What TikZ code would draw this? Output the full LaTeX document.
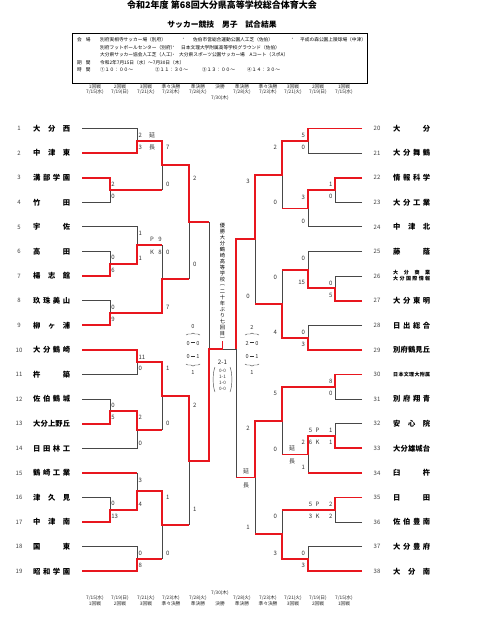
\documentclass[tikz,border=0pt]{standalone}
\usepackage{fontspec}
\setmainfont{Noto Sans CJK JP}
\usetikzlibrary{decorations.pathreplacing}
\definecolor{wred}{RGB}{232,22,30}
\newcounter{labc}
\tikzset{
  win/.style={wred, line width=1.9pt},
  lose/.style={black!72, line width=0.85pt},
  lbl/.style={font=\fontsize{6}{6}\selectfont, text=black!80, inner sep=0pt},
  lbW/.style={lbl, anchor=west},
  lbE/.style={lbl, anchor=east},
  lbC/.style={lbl},
  tnum/.style={font=\fontsize{6}{6}\selectfont, text=black!75, inner sep=0pt},
  tname/.style={font=\fontsize{7.3}{8}\selectfont\bfseries, inner sep=0pt, anchor=west},
  tsmall/.style={font=\fontsize{5}{5}\selectfont\bfseries, inner sep=0pt, anchor=west},
  hdr/.style={font=\fontsize{4.7}{5}\selectfont, inner sep=0pt, text=black!85},
  info/.style={font=\fontsize{4.7}{5}\selectfont, inner sep=0pt, anchor=west},
  vt/.style={font=\fontsize{5.2}{5.2}\selectfont, inner sep=0pt},
  sfs/.style={font=\fontsize{5.6}{6}\selectfont, inner sep=0pt, text=black!80},
  fin/.style={font=\fontsize{4.6}{5}\selectfont, inner sep=0pt, text=black!80},
  brc/.style={decorate, decoration={brace, amplitude=2pt}, line width=0.45pt, black!70},
}
\newcommand{\labL}[3]{\stepcounter{labc}\node[lbW] (lab\arabic{labc}) at (#1,#2) {#3};}
\newcommand{\labR}[3]{\stepcounter{labc}\node[lbE] (lab\arabic{labc}) at (#1,#2) {#3};}
\newcommand{\labC}[3]{\stepcounter{labc}\node[lbC] (lab\arabic{labc}) at (#1,#2) {#3};}
\newcommand{\dsh}{\,\rule[0.28em]{0.85em}{0.2em}\,}
\begin{document}
\begin{tikzpicture}[x=1pt,y=-1pt]
\useasboundingbox (0,0) rectangle (480,634);
\fill[white] (0,0) rectangle (480,634);

% titles
\node[font=\fontsize{9}{9}\selectfont\bfseries, inner sep=0pt] (title) at (222,5.5) {令和2年度 第68回大分県高等学校総合体育大会};
\node[font=\fontsize{7.8}{8}\selectfont\bfseries, inner sep=0pt] (subtitle) at (222,25) {サッカー競技　男子　試合結果};

% info box
\node[draw=black, line width=0.6pt, minimum width=295pt, minimum height=50pt, inner sep=0pt] (infobox) at (219.5,58) {};
\node[info] (k1) at (77,39.3) {会\hspace{4pt}場};
\node[info] (k4) at (77,62.7) {期\hspace{4pt}間};
\node[info] (k5) at (77,70) {時\hspace{4pt}間};
\node[info] (a1) at (100,39.3) {別府実相寺サッカー場（別府）};
\node[info] (a2) at (181,39.3) {・};
\node[info] (a3) at (193,39.3) {佐伯市営総合運動公園人工芝（佐伯）};
\node[info] (a4) at (290,39.3) {・};
\node[info] (a5) at (300,39.3) {平成の森公園上陵球場（中津）};
\node[info] (b1) at (100,47.7) {別府フットボールセンター（別府）};
\node[info] (b2) at (171,47.7) {・};
\node[info] (b3) at (181,47.7) {日本文理大学附属高等学校グラウンド（佐伯）};
\node[info] (c1) at (100,55) {大分県サッカー協会人工芝（人工）};
\node[info] (c2) at (171,55) {・};
\node[info] (c3) at (179,55) {大分県スポーツ公園サッカー場　Aコート（スポA）};
\node[info] (d1) at (100,62.7) {令和2年7月15日（水）～7月30日（木）};
\node[info] (e1) at (100,70) {①１０：００～};
\node[info] (e2) at (155,70) {②１１：３０～};
\node[info] (e3) at (202,70) {③１３：００～};
\node[info] (e4) at (247,70) {④１４：３０～};

% header / footer
\foreach \x/\r/\d [count=\i] in {95/1回戦/{7/15(水)}, 120/2回戦/{7/19(日)}, 146/3回戦/{7/21(火)}, 171/準々決勝/{7/23(木)}, 198/準決勝/{7/28(火)}, 242/準決勝/{7/28(火)}, 268/準々決勝/{7/23(木)}, 293/3回戦/{7/21(火)}, 318/2回戦/{7/19(日)}, 344/1回戦/{7/15(水)}} {
  \node[hdr] (hr\i) at (\x,87) {\r};
  \node[hdr] (hd\i) at (\x,92) {\d};
  \node[hdr] (fd\i) at (\x,598) {\d};
  \node[hdr] (fr\i) at (\x,603.5) {\r};
}
\node[hdr] (hfr) at (220,87) {決勝};
\node[hdr] (hfd) at (220,98) {7/30(木)};
\node[hdr] (ffd) at (220,593) {7/30(木)};
\node[hdr] (ffr) at (220,603.5) {決勝};

% teams left
\foreach \n/\y/\t in {1/128.5/{大\hfill 分\hfill 西}, 2/153.1/{中\hfill 津\hfill 東}, 3/177.7/{溝\hfill 部\hfill 学\hfill 園}, 4/202.3/{竹\hfill 田}, 5/226.9/{宇\hfill 佐}, 6/251.5/{高\hfill 田}, 7/276.1/{楊\hfill 志\hfill 館}, 8/300.7/{玖\hfill 珠\hfill 美\hfill 山}, 9/325.3/{柳\hfill ヶ\hfill 浦}, 10/349.9/{大\hfill 分\hfill 鶴\hfill 崎}, 11/374.5/{杵\hfill 築}, 12/399.1/{佐\hfill 伯\hfill 鶴\hfill 城}, 13/423.7/{大\hfill 分\hfill 上\hfill 野\hfill 丘}, 14/448.3/{日\hfill 田\hfill 林\hfill 工}, 15/472.9/{鶴\hfill 崎\hfill 工\hfill 業}, 16/497.5/{津\hfill 久\hfill 見}, 17/522.1/{中\hfill 津\hfill 南}, 18/546.7/{国\hfill 東}, 19/571.3/{昭\hfill 和\hfill 学\hfill 園}} {
  \node[tnum] (nl\n) at (19,\y) {\n};
  \node[tname] (tl\n) at (33,\y) {\makebox[37pt][s]{\t}};
}
% teams right
\foreach \n/\y/\t in {20/128.5/{大\hfill 分}, 21/153.1/{大\hfill 分\hfill 舞\hfill 鶴}, 22/177.7/{情\hfill 報\hfill 科\hfill 学}, 23/202.3/{大\hfill 分\hfill 工\hfill 業}, 24/226.9/{中\hfill 津\hfill 北}, 25/251.5/{藤\hfill 蔭}, 27/300.7/{大\hfill 分\hfill 東\hfill 明}, 28/325.3/{日\hfill 出\hfill 総\hfill 合}, 29/349.9/{別\hfill 府\hfill 鶴\hfill 見\hfill 丘}, 31/399.1/{別\hfill 府\hfill 翔\hfill 青}, 32/423.7/{安\hfill 心\hfill 院}, 33/448.3/{大\hfill 分\hfill 雄\hfill 城\hfill 台}, 34/472.9/{臼\hfill 杵}, 35/497.5/{日\hfill 田}, 36/522.1/{佐\hfill 伯\hfill 豊\hfill 南}, 37/546.7/{大\hfill 分\hfill 豊\hfill 府}, 38/571.3/{大\hfill 分\hfill 南}} {
  \node[tnum] (nr\n) at (377,\y) {\n};
  \node[tname] (tr\n) at (393,\y) {\makebox[37pt][s]{\t}};
}
\node[tnum] (nr26) at (377,276.1) {26};
\node[tsmall] (tr26a) at (393,272.6) {\makebox[37pt][s]{大\hfill 分\hfill 商\hfill 業}};
\node[tsmall] (tr26b) at (393,278.6) {\makebox[37pt][s]{大\hfill 分\hfill 国\hfill 際\hfill 情\hfill 報}};
\node[tnum] (nr30) at (377,374.5) {30};
\node[tsmall] (tr30) at (393,374.5) {\makebox[37pt][s]{日\hfill 本\hfill 文\hfill 理\hfill 大\hfill 附\hfill 属}};

% ---------- LEFT bracket: losers ----------
\draw[lose] (82,128.5) -- (137,128.5) -- (137,140.8);
\draw[lose] (82,202.3) -- (110,202.3) -- (110,190);
\draw[lose] (162,190) -- (162,165.4);
\draw[lose] (82,251.5) -- (110,251.5) -- (110,263.8);
\draw[lose] (82,226.9) -- (137,226.9) -- (137,245.35);
\draw[lose] (82,300.7) -- (110,300.7) -- (110,313);
\draw[lose] (162,245.35) -- (162,279.2);
\draw[lose] (189,279.2) -- (189,222.3);
\draw[lose] (82,374.5) -- (137,374.5) -- (137,362.2);
\draw[lose] (82,399.1) -- (110,399.1) -- (110,411.4);
\draw[lose] (82,448.3) -- (137,448.3) -- (137,429.85);
\draw[lose] (162,429.85) -- (162,396);
\draw[lose] (82,497.5) -- (110,497.5) -- (110,509.8);
\draw[lose] (137,472.9) -- (137,491.35);
\draw[lose] (82,546.7) -- (137,546.7) -- (137,559);
\draw[lose] (162,559) -- (162,525.2);
\draw[lose] (189,525.2) -- (189,460.6);
\draw[lose] (209,222.3) -- (209,349);
% ---------- RIGHT bracket: losers ----------
\draw[lose] (362,153.1) -- (308,153.1) -- (308,140.8);
\draw[lose] (362,202.3) -- (335,202.3) -- (335,190);
\draw[lose] (362,226.9) -- (308,226.9) -- (308,208.45);
\draw[lose] (282,208.45) -- (282,174.6);
\draw[lose] (362,276.1) -- (335,276.1) -- (335,288.4);
\draw[lose] (362,251.5) -- (308,251.5) -- (308,270);
\draw[lose] (362,325.3) -- (308,325.3) -- (308,337.6);
\draw[lose] (282,270) -- (282,303.8);
\draw[lose] (255,303.8) -- (255,239.2);
\draw[lose] (362,399.1) -- (335,399.1) -- (335,386.8);
\draw[lose] (362,423.7) -- (335,423.7) -- (335,436);
\draw[lose] (308,472.9) -- (308,454.45);
\draw[lose] (282,454.45) -- (282,420.6);
\draw[lose] (362,522.1) -- (335,522.1) -- (335,509.8);
\draw[lose] (362,546.7) -- (308,546.7) -- (308,559);
\draw[lose] (282,509.8) -- (282,534.4);
\draw[lose] (255,534.4) -- (255,477.5);
\draw[lose] (236,477.5) -- (236,349) -- (222.5,349);

% ---------- LEFT bracket: winners ----------
\draw[win] (82,153.1) -- (137,153.1) -- (137,140.8) -- (162,140.8) -- (162,165.4) -- (189,165.4) -- (189,222.3) -- (209,222.3);
\draw[win] (82,177.7) -- (110,177.7) -- (110,190) -- (162,190);
\draw[win] (82,276.1) -- (110,276.1) -- (110,263.8) -- (137,263.8) -- (137,245.35) -- (162,245.35);
\draw[win] (82,325.3) -- (110,325.3) -- (110,313) -- (162,313) -- (162,279.2) -- (189,279.2);
\draw[win] (82,349.9) -- (137,349.9) -- (137,362.2) -- (162,362.2) -- (162,396) -- (189,396) -- (189,460.6) -- (209,460.6) -- (209,349) -- (222.5,349) -- (222.5,341);
\draw[win] (82,423.7) -- (110,423.7) -- (110,411.4) -- (137,411.4) -- (137,429.85) -- (162,429.85);
\draw[win] (82,472.9) -- (137,472.9);
\draw[win] (82,522.1) -- (110,522.1) -- (110,509.8) -- (137,509.8) -- (137,491.35) -- (162,491.35) -- (162,525.2) -- (189,525.2);
\draw[win] (82,571.3) -- (137,571.3) -- (137,559) -- (162,559);
% ---------- RIGHT bracket: winners ----------
\draw[win] (362,128.5) -- (308,128.5) -- (308,140.8) -- (282,140.8) -- (282,174.6) -- (255,174.6) -- (255,239.2) -- (236,239.2) -- (236,349);
\draw[win] (362,177.7) -- (335,177.7) -- (335,190) -- (308,190) -- (308,208.45) -- (282,208.45);
\draw[win] (362,300.7) -- (335,300.7) -- (335,288.4) -- (308,288.4) -- (308,270) -- (282,270);
\draw[win] (362,349.9) -- (308,349.9) -- (308,337.6) -- (282,337.6) -- (282,303.8) -- (255,303.8);
\draw[win] (362,374.5) -- (335,374.5) -- (335,386.8) -- (282,386.8) -- (282,420.6) -- (255,420.6) -- (255,477.5) -- (236,477.5);
\draw[win] (362,448.3) -- (335,448.3) -- (335,436) -- (308,436) -- (308,454.45) -- (282,454.45);
\draw[win] (362,472.9) -- (308,472.9);
\draw[win] (362,497.5) -- (335,497.5) -- (335,509.8) -- (282,509.8);
\draw[win] (362,571.3) -- (308,571.3) -- (308,559) -- (282,559) -- (282,534.4) -- (255,534.4);

% ---------- score labels left ----------
\labL{138.3}{135}{2} \labC{152}{135}{延} \labL{138.3}{147}{3} \labC{152}{147}{長}
\labL{111.2}{184}{2} \labL{111.2}{196}{0}
\labL{166}{147}{7} \labL{166}{184}{0}
\labL{111.2}{257.5}{0} \labL{111.2}{270}{6}
\labL{138.3}{233}{1} \labL{138.3}{258}{1}
\labC{152}{239}{P} \labC{160}{239}{9} \labC{152}{252}{K} \labC{160}{252}{8}
\labL{111.2}{307}{0} \labL{111.2}{319}{9}
\labL{166}{252}{0} \labL{166}{307}{7}
\labL{193}{178}{2} \labL{193}{264}{0}
\labL{138.3}{357}{11} \labL{138.3}{368}{0}
\labL{111.2}{405}{0} \labL{111.2}{417}{5}
\labL{138.3}{417}{2} \labL{138.3}{443}{0}
\labL{166}{368}{1} \labL{166}{423}{0}
\labL{138.3}{480}{3} \labL{138.3}{504}{4}
\labL{111.2}{503.5}{0} \labL{111.2}{516}{13}
\labL{138.3}{553}{0} \labL{138.3}{565}{8}
\labL{166}{497}{1} \labL{166}{553}{0}
\labL{193}{405}{2} \labL{193}{509}{1}
% ---------- score labels right ----------
\labR{305.2}{135}{5} \labR{305.2}{147}{0}
\labR{332.7}{184}{1} \labR{332.7}{196}{0}
\labR{305.2}{197}{3} \labR{305.2}{221}{0}
\labR{277.2}{147}{2} \labR{277.2}{202}{0}
\labR{250}{181}{3} \labR{250}{296}{0}
\labR{305.2}{258}{0} \labR{305.2}{282.5}{15}
\labR{332.7}{283}{0} \labR{332.7}{295}{5}
\labR{305.2}{332}{0} \labR{305.2}{344}{3}
\labR{277.2}{277}{0} \labR{277.2}{332}{4}
\labR{332.7}{381}{8} \labR{332.7}{393}{0}
\labR{332.7}{430}{1} \labR{332.7}{442}{1}
\labC{317.5}{430}{P} \labC{317.5}{442}{K} \labC{310.5}{430}{5} \labC{310.5}{442}{6}
\labR{305.2}{442}{2} \labR{305.2}{467}{1} \labC{292}{448}{延} \labC{292}{461}{長}
\labR{277.2}{393}{5} \labR{277.2}{449}{0}
\labR{332.7}{504}{2} \labR{332.7}{516}{2}
\labC{317.5}{504}{P} \labC{317.5}{516}{K} \labC{310.5}{504}{5} \labC{310.5}{516}{3}
\labR{305.2}{553}{0} \labR{305.2}{565}{3}
\labR{277.2}{516}{0} \labR{277.2}{553}{3}
\labR{250}{428}{2} \labR{250}{527}{1} \labC{246}{471.5}{延} \labC{246}{485.5}{長}

% ---------- semifinal scores ----------
\node[sfs] (sl1) at (193,327) {0};
\draw[brc] (186,335) -- (200,335);
\node[sfs] (sl2) at (193,343) {0\dsh0};
\node[sfs] (sl3) at (193,356.5) {0\dsh1};
\draw[brc] (200,364) -- (186,364);
\node[sfs] (sl4) at (193,372) {1};
\node[sfs] (sr1) at (252,327) {2};
\draw[brc] (245,335) -- (259,335);
\node[sfs] (sr2) at (252,343) {2\dsh0};
\node[sfs] (sr3) at (252,356.5) {0\dsh1};
\draw[brc] (259,364) -- (245,364);
\node[sfs] (sr4) at (252,372) {1};

% ---------- final ----------
\node[font=\fontsize{6.2}{6}\selectfont, inner sep=0pt, text=black!85] (fs) at (222.5,362.5) {2-1};
\node[fin] (f1) at (222.5,371) {0-0};
\node[fin] (f2) at (222.5,377) {1-1};
\node[fin] (f3) at (222.5,383) {1-0};
\node[fin] (f4) at (222.5,389) {0-0};
\draw[black!70, line width=0.45pt] (215,367) .. controls (212.5,373) and (212.5,386) .. (215,392);
\draw[black!70, line width=0.45pt] (230,367) .. controls (232.5,373) and (232.5,386) .. (230,392);

% champion vertical text
\foreach \c [count=\i] in {優,勝,大,分,鶴,崎,高,等,学,校,︵,二,十,年,ぶ,り,七,回,目,︶} {
  \node[vt] (v\i) at (222.5,{225.5+(\i-1)*6}) {\c};
}
\end{tikzpicture}
\end{document}
